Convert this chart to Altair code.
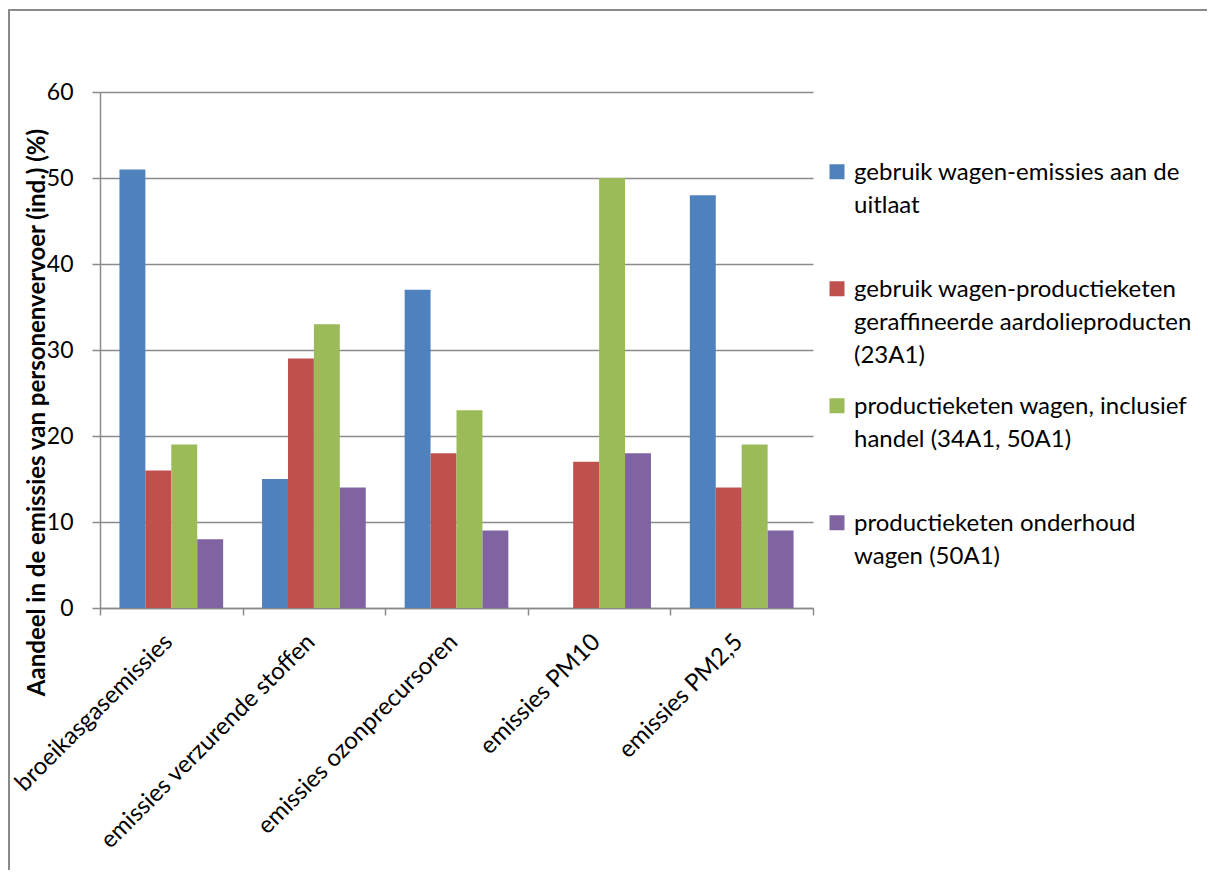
import altair as alt
import pandas as pd

categories = ["broeikasgasemissies", "emissies verzurende stoffen",
              "emissies ozonprecursoren", "emissies PM10", "emissies PM2,5"]
series = ["gebruik wagen-emissies aan de uitlaat",
          "gebruik wagen-productieketen geraffineerde aardolieproducten (23A1)",
          "productieketen wagen, inclusief handel (34A1, 50A1)",
          "productieketen onderhoud wagen (50A1)"]
uitlaat = [51, 15, 37, 0, 48]
raffinage = [16, 29, 18, 17, 14]
wagen = [19, 33, 23, 50, 19]
onderhoud = [8, 14, 9, 18, 9]
colors = ["#4F81BD", "#C0504D", "#9BBB59", "#8064A2"]
legend_lines = [
    ["gebruik wagen-emissies aan de", "uitlaat", ""],
    ["gebruik wagen-productieketen", "geraffineerde aardolieproducten", "(23A1)"],
    ["productieketen wagen, inclusief", "handel (34A1, 50A1)", ""],
    ["\u00a0productieketen onderhoud", "wagen (50A1)", ""],
]

rows = []
for s, vals in zip(series, [uitlaat, raffinage, wagen, onderhoud]):
    for c, v in zip(categories, vals):
        rows.append({"categorie": c, "reeks": s, "waarde": v})
df = pd.DataFrame(rows)

expr = ""
for s, lines in zip(series, legend_lines):
    arr = "[" + ",".join("'" + l + "'" for l in lines) + "]"
    expr += f"datum.label == '{s}' ? {arr} : "
expr += "datum.label"

FONT = "Lato"
GRAY = "#8a8a8a"

bars = alt.Chart(df).mark_bar().encode(
    x=alt.X("categorie:N", sort=categories, title=None,
            scale=alt.Scale(paddingInner=0, paddingOuter=0),
            axis=alt.Axis(tickBand="extent", tickSize=7, tickColor=GRAY, tickWidth=1.5,
                          domainColor=GRAY, domainWidth=1.5,
                          labelAngle=315, labelAlign="right", labelBaseline="middle",
                          labelPadding=23, labelOffset=-3, labelFont=FONT, labelFontSize=24,
                          labelColor="#000000", labelLimit=400, grid=False)),
    xOffset=alt.XOffset("reeks:N", sort=series,
                        scale=alt.Scale(paddingInner=0, paddingOuter=0.75)),
    y=alt.Y("waarde:Q", scale=alt.Scale(domain=[0, 60]),
            title="Aandeel in de emissies van personenvervoer (ind.) (%)",
            axis=alt.Axis(values=[0, 10, 20, 30, 40, 50, 60], tickSize=8, tickColor=GRAY,
                          tickWidth=1.5, domainColor=GRAY, domainWidth=1.5,
                          gridColor=GRAY, gridWidth=1.5,
                          labelFont=FONT, labelFontSize=23, labelColor="#000000",
                          labelPadding=19,
                          titleFont=FONT, titleFontSize=24, titleFontWeight="bold",
                          titleColor="#000000", titleAngle=270, titleX=-63, titleY=320,
                          titleAlign="center", titleBaseline="middle")),
    color=alt.Color("reeks:N", sort=series,
                    scale=alt.Scale(domain=series, range=colors),
                    legend=alt.Legend(title=None, orient="none", legendX=725, legendY=76,
                                      labelFont=FONT, labelFontSize=24, labelColor="#000000",
                                      labelLimit=500, labelOffset=5,
                                      labelBaseline="alphabetic", labelExpr=expr,
                                      symbolType="M-1,-2.1H1V-0.1H-1Z", symbolSize=225,
                                      symbolStrokeWidth=0, rowPadding=27, padding=0)),
)

frame = alt.Chart(pd.DataFrame({"kader": [0]})).mark_rect(
    fill="transparent", stroke=GRAY, strokeWidth=2
).encode(
    x=alt.value(-91), y=alt.value(-82), x2=alt.value(1600), y2=alt.value(1400)
)

chart = alt.layer(frame, bars).properties(
    width=713, height=516, autosize="none",
    padding={"left": 92, "top": 84, "right": 394, "bottom": 262},
).configure(
    font=FONT,
    style={"guide-label": {"lineHeight": 33}},
).configure_view(stroke="transparent")

chart.save("out.html", embed_options={"renderer": "svg", "actions": False})
